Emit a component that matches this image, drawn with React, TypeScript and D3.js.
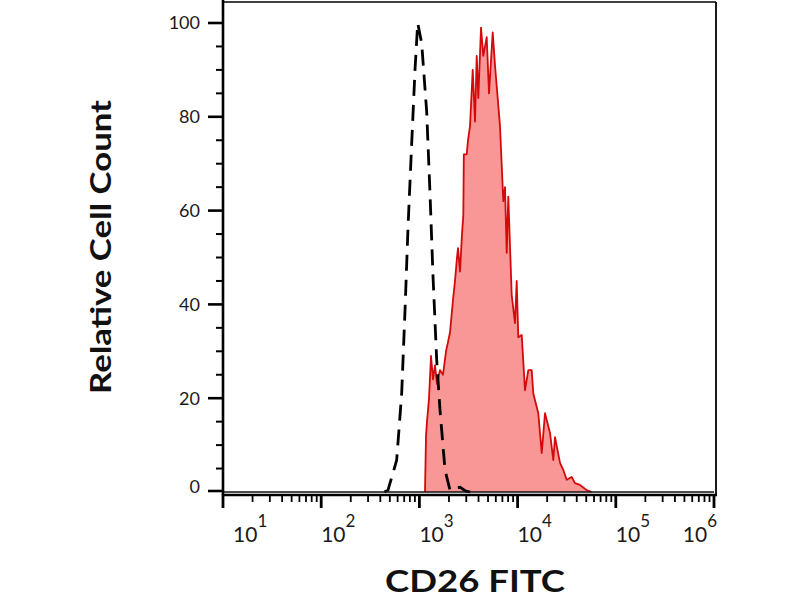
import React from "react";
import * as d3 from "d3";

// CD26 FITC stained sample (red, filled)
const stainedIntensity = [10, 1140, 1168, 1195, 1253, 1313, 1376, 1442, 1511, 1621, 1739, 1866, 1956, 2049, 2199, 2304, 2415, 2472, 2591, 2715, 2800, 2833, 3032, 3126, 3276, 3491, 3684, 3834, 3981, 4240, 4475, 4846, 5115, 5578, 5887, 6619, 7152, 7443, 7745, 8040, 8709, 9408, 9790, 10164, 11010, 11895, 12853, 13918, 14454, 16248, 17600, 19011, 21379, 23097, 24040, 27032, 29206, 31623, 35556, 38414, 43199, 50540, 56840, 1000000];
const stainedCount = [0, 0, 12, 15, 20, 29, 24, 27, 23, 26, 25, 30, 32, 34, 41, 45, 50, 52, 47, 55, 59, 72, 72, 75, 78, 90, 79, 93, 84, 99, 93, 97, 85, 98, 91, 78, 62, 65, 51, 63, 42, 36, 45, 33, 33.5, 21.7, 26, 26, 21, 16.8, 8.3, 16.8, 12.6, 6.8, 11.7, 6.2, 4.7, 2.6, 3.2, 1.9, 1.5, 0.4, 0, 0];

// Isotype control (black dashed), nonzero part only
const isotypeIntensity = [440, 479, 587, 660, 714, 766, 835, 902, 961, 1055, 1187, 1282, 1376, 1501, 1621, 1823, 2049, 2304, 2591, 2982, 3300];
const isotypeCount = [0, 0.4, 6.8, 21, 38.8, 56.5, 74.4, 90, 100, 95.7, 81, 63.7, 46, 28, 17.5, 4.7, 0.4, 0.8, 1.0, 0.2, 0];

const yMajorTicks = [0, 20, 40, 60, 80, 100];
const yMinorTicks = [5, 10, 15, 25, 30, 35, 45, 50, 55, 65, 70, 75, 85, 90, 95];
const xDecades = [1, 2, 3, 4, 5, 6];
const xMinorMultipliers = [2, 3, 4, 5, 6, 7, 8, 9];

const xLabel = "CD26 FITC";
const yLabel = "Relative Cell Count";

const FONT = "Lato, 'Noto Sans', sans-serif";

export default function App() {
  const left = 223, right = 714, top = 2, bottom = 494;
  const x = d3.scaleLog().domain([10, 1e6]).range([left, right]);
  const y = d3.scaleLinear().domain([0, 100]).range([492, 23]);

  const stained = stainedIntensity.map((v, i) => [v, stainedCount[i]] as [number, number]);
  const isotype = isotypeIntensity.map((v, i) => [v, isotypeCount[i]] as [number, number]);

  const area = d3.area<[number, number]>()
    .x(d => x(d[0]))
    .y0(y(0))
    .y1(d => y(d[1]));
  const line = d3.line<[number, number]>()
    .x(d => x(d[0]))
    .y(d => y(d[1]));

  const minorX: number[] = [];
  xDecades.slice(0, -1).forEach(e => xMinorMultipliers.forEach(m => minorX.push(m * Math.pow(10, e))));

  return (
    <svg width={800} height={600} style={{ position: "absolute", left: 0, top: 0, background: "#fff" }}>
      <rect x={0} y={0} width={800} height={600} fill="#fff" />
      {/* histograms */}
      <path d={area(stained) || ""} fill="#f99696" stroke="none" />
      <path d={line(stained.slice(1, -1)) || ""} fill="none" stroke="#d40a0a" strokeWidth={1.8} strokeLinejoin="round" />
      <path d={line(isotype) || ""} fill="none" stroke="#000" strokeWidth={2.8} strokeDasharray="16 9" />
      <line x1={x(10)} x2={x(1e6)} y1={y(0)} y2={y(0)} stroke="#111" strokeWidth={1.3} />

      {/* frame */}
      <line x1={left} x2={right + 2} y1={top} y2={top} stroke="#000" strokeWidth={1.5} />
      <line x1={right + 2} x2={right + 2} y1={top} y2={bottom} stroke="#000" strokeWidth={1.8} />
      <line x1={left} x2={left} y1={0} y2={bottom + 1} stroke="#000" strokeWidth={2.6} />
      <line x1={left - 1} x2={right + 3} y1={bottom + 1} y2={bottom + 1} stroke="#000" strokeWidth={2.6} />

      {/* y ticks */}
      {yMajorTicks.map(t => (
        <g key={"ym" + t}>
          <line x1={left - 15} x2={left} y1={y(t) - (t === 0 ? 1 : 0)} y2={y(t) - (t === 0 ? 1 : 0)} stroke="#000" strokeWidth={2.6} />
          <text x={200} y={y(t) - (t === 0 ? 5 : 0)} dy="0.36em" textAnchor="end" fontFamily={FONT} fontSize={18} fill="#1a1a1a">{t}</text>
        </g>
      ))}
      {yMinorTicks.map(t => (
        <line key={"yn" + t} x1={left - 7} x2={left} y1={y(t)} y2={y(t)} stroke="#000" strokeWidth={2} />
      ))}

      {/* x ticks */}
      {xDecades.map(e => (
        <line key={"xm" + e} x1={x(Math.pow(10, e))} x2={x(Math.pow(10, e))} y1={bottom} y2={bottom + 14} stroke="#000" strokeWidth={2.8} />
      ))}
      {minorX.map(v => (
        <line key={"xn" + v} x1={x(v)} x2={x(v)} y1={bottom} y2={bottom + 8} stroke="#000" strokeWidth={1.8} />
      ))}
      {xDecades.map((e, i) => {
        const tx = x(Math.pow(10, e));
        const last = i === xDecades.length - 1;
        const first = i === 0;
        return (
          <text key={"xl" + e} x={first ? tx + 10 : last ? tx + 3 : tx} y={542} textAnchor={last ? "end" : "start"} fontFamily={FONT} fontSize={21} fill="#1a1a1a">
            <tspan>10</tspan>
            <tspan dx={0} dy={-15} fontSize={17}>{e}</tspan>
          </text>
        );
      })}

      {/* axis titles */}
      <text x={475} y={592} textAnchor="middle" fontFamily={FONT} fontWeight="bold" fontSize={30} textLength={180} lengthAdjust="spacingAndGlyphs" fill="#111">{xLabel}</text>
      <text transform="translate(111,247) rotate(-90)" textAnchor="middle" fontFamily={FONT} fontWeight="bold" fontSize={28} textLength={294} lengthAdjust="spacingAndGlyphs" fill="#111">{yLabel}</text>
    </svg>
  );
}
